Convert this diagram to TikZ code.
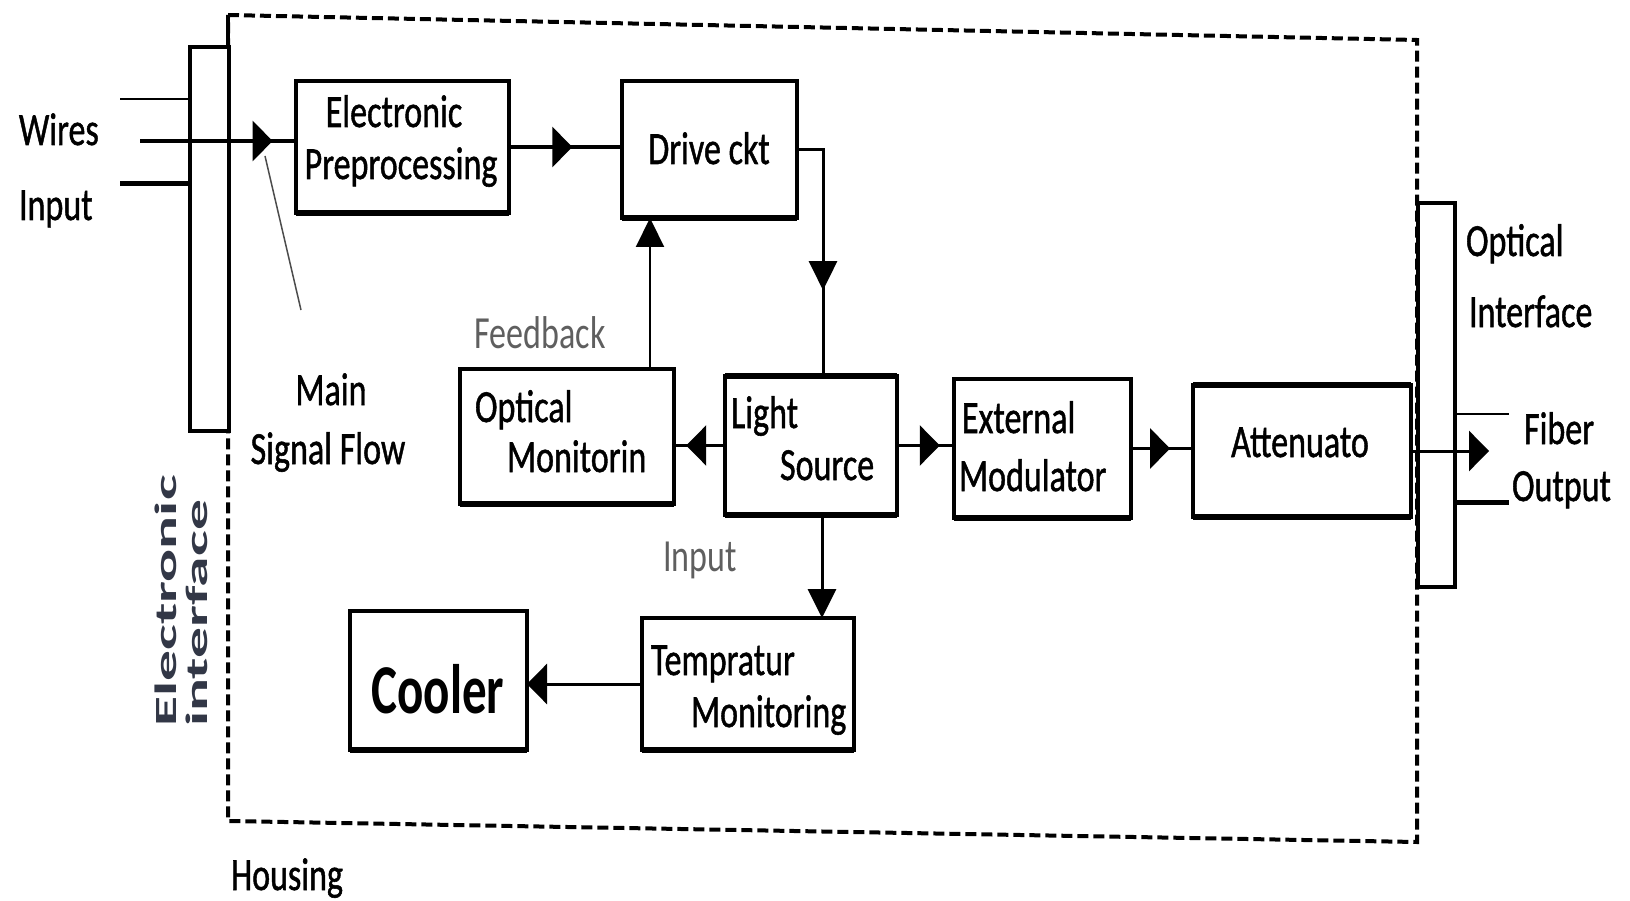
\documentclass[tikz,border=0pt]{standalone}
\usepackage{fontspec}
\setmainfont{Carlito}
\newfontfamily\fbfont{Carlito}[FakeBold=1.2]
\usepackage{graphicx}
\usetikzlibrary{arrows.meta,decorations.markings}
\newcommand\sqz[1]{\scalebox{0.74}[1]{#1}}
\definecolor{eicol}{RGB}{50,55,70}
\definecolor{lbgray}{RGB}{95,95,95}
\tikzset{
  boxst/.style={draw, line width=3.4pt, fill=white, inner sep=0pt, outer sep=0pt, anchor=north west},
  heavy/.style={line width=6pt},
  txt/.style={inner sep=0pt, outer sep=0pt, font=\fbfont\fontsize{46}{52}\selectfont, text height=30pt, text depth=0pt},
  conn/.style={line width=3pt},
  hmid/.style={decoration={markings, mark=at position #1 with {\arrow{Triangle[length=20pt,width=40pt]}}}, postaction={decorate}},
  vmid/.style={decoration={markings, mark=at position #1 with {\arrow{Triangle[length=29pt,width=28pt]}}}, postaction={decorate}},
  htip/.style={-{Triangle[length=20pt,width=40pt]}},
  vtip/.style={-{Triangle[length=29pt,width=28pt]}},
  housing/.style={line width=4pt, dash pattern=on 11pt off 5pt}
}
\begin{document}
\begin{tikzpicture}[x=1pt,y=-1pt]
\useasboundingbox (0,0) rectangle (1630,901);
% housing
\draw[housing] (228,15) -- (1417,40) -- (1417,842) -- (228,821) -- cycle;
% interfaces
\node[boxst, minimum width=39pt, minimum height=384pt] (ei) at (190,47) {};
\node[boxst, minimum width=37pt, minimum height=384pt] (oi) at (1418,203) {};
% solid stretch of the housing edge above the electronic interface
\coordinate (htl) at (228,15);
\draw[line width=3.4pt] (htl) -- (htl |- ei.north);
% blocks
\node[boxst, minimum width=213pt, minimum height=132pt] (pre) at (296,81) {};
\node[boxst, minimum width=175pt, minimum height=137pt] (drv) at (622,81) {};
\node[boxst, minimum width=214pt, minimum height=135pt] (om) at (460,369) {};
\node[boxst, minimum width=172pt, minimum height=139pt] (ls) at (725,376) {};
\node[boxst, minimum width=177pt, minimum height=139pt] (em) at (954,379) {};
\node[boxst, minimum width=218pt, minimum height=132pt] (att) at (1193,385) {};
\node[boxst, minimum width=212pt, minimum height=132pt] (tm) at (642,618) {};
\node[boxst, minimum width=177pt, minimum height=139pt] (cool) at (350,611) {};
% heavier edges (as in the scan)
\draw[heavy] (pre.south west) -- (pre.south east);
\draw[heavy] (drv.south west) -- (drv.south east);
\draw[heavy] (om.south west) -- (om.south east);
\draw[heavy] (ls.south west) -- (ls.south east);
\draw[heavy] (ls.north west) -- (ls.north east);
\draw[heavy] (att.south west) -- (att.south east);
\draw[heavy] (att.north west) -- (att.north east);
\draw[heavy] (em.south west) -- (em.south east);
\draw[heavy] (tm.south west) -- (tm.south east);
\draw[heavy] (cool.south west) -- (cool.south east);
% wires
\coordinate (w1s) at (120,99);
\coordinate (w2s) at (140,141);
\coordinate (w3s) at (120,184);
\draw[line width=2.2pt] (w1s) -- (w1s -| ei.west);
\draw[conn, line width=3.5pt, hmid=0.85] (w2s) -- (w2s -| pre.west);
\draw[line width=5pt] (w3s) -- (w3s -| ei.west);
% main signal flow pointer
\coordinate (msf1) at (265,156);
\coordinate (msf2) at (301,310);
\draw[line width=1.5pt, black!70] (msf1) -- (msf2);
% connectors
\draw[conn, line width=3.5pt, hmid=0.56] (pre.east) -- (pre.east -| drv.west);
\draw[conn, vmid=0.66] (drv.east) -| ([xshift=12pt]ls.north);
\draw[conn, line width=2.2pt, vtip] ([xshift=-24pt]om.north east) -- ([xshift=-24pt]om.north east |- drv.south);
\draw[conn, hmid=0.76] (ls.west) -- (ls.west -| om.east);
\draw[conn, hmid=0.75] (ls.east) -- (ls.east -| em.west);
\draw[conn, hmid=0.63] (em.east) -- (em.east -| att.west);
\coordinate (fo) at (1489,451);
\draw[conn, htip] (att.east) -- (fo);
\draw[conn, vtip] ([xshift=11pt]ls.south) -- ([xshift=11pt]ls.south |- tm.north);
\draw[conn, htip] (tm.west) -- (tm.west -| cool.east);
% fiber lines
\coordinate (fb1) at (1509,414);
\coordinate (fb2) at (1509,502);
\draw[line width=2.2pt] (oi.east |- fb1) -- (fb1);
\draw[line width=5pt] (oi.east |- fb2) -- (fb2);
% texts
\node[txt, anchor=west] (twires) at (19,130) {\sqz{Wires}};
\node[txt, anchor=west] (tinput) at (19,205) {\sqz{Input}};
\node[txt] (tpre1) at (394,112) {\sqz{Electronic}};
\node[txt] (tpre2) at (401,164) {\sqz{Preprocessing}};
\node[txt] (tdrv) at (709,149) {\sqz{Drive ckt}};
\node[txt, anchor=west] (tom1) at (475,407) {\sqz{Optical}};
\node[txt, anchor=west] (tom2) at (507,457) {\sqz{Monitorin}};
\node[txt, anchor=west] (tls1) at (731,413) {\sqz{Light}};
\node[txt, anchor=west] (tls2) at (780,465) {\sqz{Source}};
\node[txt, anchor=west] (tem1) at (962,418) {\sqz{External}};
\node[txt, anchor=west] (tem2) at (959,476) {\sqz{Modulator}};
\node[txt] (tatt) at (1300,442) {\sqz{Attenuato}};
\node[txt, anchor=west] (ttm1) at (651,660) {\sqz{Tempratur}};
\node[txt, anchor=west] (ttm2) at (691,712) {\sqz{Monitoring}};
\node[txt, font=\fontsize{70}{80}\selectfont\bfseries, text height=45pt] (tcool) at (438,691) {\scalebox{0.7}[1]{Cooler}};
\node[txt] (tmain) at (331,390) {\sqz{Main}};
\node[txt] (tsig) at (328,449) {\sqz{Signal Flow}};
\node[txt, font=\fontsize{46}{52}\selectfont, text=lbgray] (tfb) at (540,333) {\sqz{Feedback}};
\node[txt, font=\fontsize{46}{52}\selectfont, text=lbgray] (tin2) at (700,556) {\sqz{Input}};
\node[txt] (thous) at (287,875) {\sqz{Housing}};
\node[txt, anchor=west] (toi1) at (1466,241) {\sqz{Optical}};
\node[txt, anchor=west] (toi2) at (1469,312) {\sqz{Interface}};
\node[txt, anchor=west] (tfib1) at (1524,429) {\sqz{Fiber}};
\node[txt, anchor=west] (tfib2) at (1512,486) {\sqz{Output}};
\node[rotate=90, inner sep=0pt, align=left, font=\fontsize{44}{31}\selectfont\bfseries, text=eicol] (teil) at (181,601) {\scalebox{1.4}[0.7]{Electronic}\\\scalebox{1.4}[0.7]{interface}};
\end{tikzpicture}
\end{document}
